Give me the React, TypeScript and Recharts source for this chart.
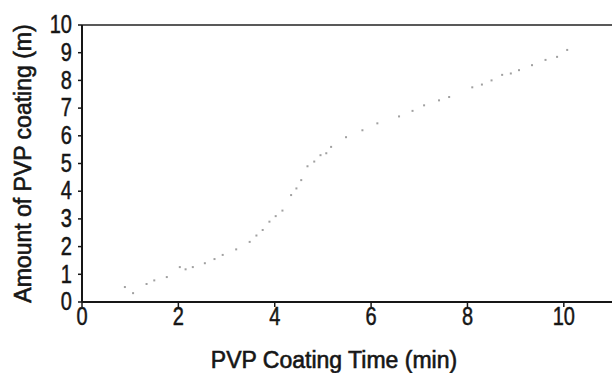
import { ScatterChart, Scatter, XAxis, YAxis, ReferenceLine } from 'recharts'

// Coating time (min) vs amount of PVP coating
const times = [
  0.89, 1.06, 1.34, 1.5, 1.76, 2.03, 2.15, 2.3, 2.55, 2.75, 2.92, 3.2, 3.48,
  3.62, 3.75, 3.89, 4.02, 4.16, 4.34, 4.45, 4.55, 4.68, 4.82, 4.95, 5.07,
  5.17, 5.48, 5.82, 6.13, 6.58, 6.86, 7.1, 7.41, 7.62, 8.1, 8.3, 8.5, 8.72,
  8.9, 9.07, 9.34, 9.62, 9.86, 10.07,
]
const amounts = [
  0.54, 0.32, 0.65, 0.78, 0.9, 1.26, 1.18, 1.26, 1.4, 1.55, 1.7, 1.9, 2.17,
  2.4, 2.6, 2.9, 3.1, 3.3, 3.86, 4.1, 4.4, 4.9, 5.07, 5.3, 5.37, 5.6, 5.95,
  6.2, 6.45, 6.7, 6.9, 7.1, 7.28, 7.4, 7.75, 7.85, 8.0, 8.2, 8.25, 8.37,
  8.55, 8.74, 8.85, 9.1,
]
const xTicks = [0, 2, 4, 6, 8, 10]
const yTicks = [0, 1, 2, 3, 4, 5, 6, 7, 8, 9, 10]

const data = times.map((t, i) => ({ t, a: amounts[i] }))

const font = "'Liberation Sans', Arial, sans-serif"
const ink = '#161616'

function Dot(props: any) {
  const { cx, cy } = props
  if (cx == null || cy == null) return null
  return <rect x={cx - 1} y={cy - 1} width={2} height={2} fill="#a0a0a0" />
}

// condensed tick text: the scan uses a narrow face, squeeze a regular one
function NarrowTick(props: any) {
  const { x, y, payload, textAnchor } = props
  return (
    <text
      x={x}
      y={y}
      textAnchor={textAnchor}
      dominantBaseline="central"
      transform={`translate(${x} ${y}) scale(0.8 1) translate(${-x} ${-y})`}
      fontFamily={font}
      fontSize={25}
      fill={ink}
      stroke={ink}
      strokeWidth={0.5}
    >
      {payload.value}
    </text>
  )
}

function YLabel(props: any) {
  const vb = props.viewBox
  const x = vb.x + 23
  const y = vb.y + vb.height / 2
  return (
    <text
      x={x}
      y={y}
      transform={`rotate(-90 ${x} ${y})`}
      textAnchor="middle"
      dominantBaseline="central"
      fontFamily={font}
      fontSize={23}
      fill={ink}
      stroke={ink}
      strokeWidth={0.6}
    >
      Amount of PVP coating (m)
    </text>
  )
}

function XLabel(props: any) {
  const vb = props.viewBox
  return (
    <text
      x={vb.x + vb.width / 2 - 13}
      y={vb.y + 66}
      textAnchor="middle"
      fontFamily={font}
      fontSize={23}
      fill={ink}
      stroke={ink}
      strokeWidth={0.6}
    >
      PVP Coating Time (min)
    </text>
  )
}

export default function App() {
  return (
    <div style={{ position: 'absolute', left: 0, top: 0, background: '#fff' }}>
      <ScatterChart
        width={612}
        height={373}
        margin={{ top: 25, right: 0, bottom: 0, left: 0 }}
      >
        <XAxis
          type="number"
          dataKey="t"
          domain={[0, 11]}
          ticks={xTicks}
          allowDataOverflow
          height={71}
          axisLine={{ stroke: ink, strokeWidth: 2 }}
          tickLine={{ stroke: ink, strokeWidth: 1.5 }}
          tickSize={5}
          tickMargin={10}
          tick={<NarrowTick />}
          label={<XLabel />}
        />
        <YAxis
          type="number"
          dataKey="a"
          domain={[0, 10]}
          ticks={yTicks}
          interval={0}
          width={82}
          axisLine={{ stroke: ink, strokeWidth: 2 }}
          tickLine={{ stroke: ink, strokeWidth: 1.5 }}
          tickSize={4}
          tickMargin={6}
          tick={<NarrowTick />}
          label={<YLabel />}
        />
        <ReferenceLine y={10} stroke="#222" strokeWidth={1.5} />
        <Scatter
          data={data}
          shape={<Dot />}
          isAnimationActive={false}
        />
      </ScatterChart>
    </div>
  )
}
